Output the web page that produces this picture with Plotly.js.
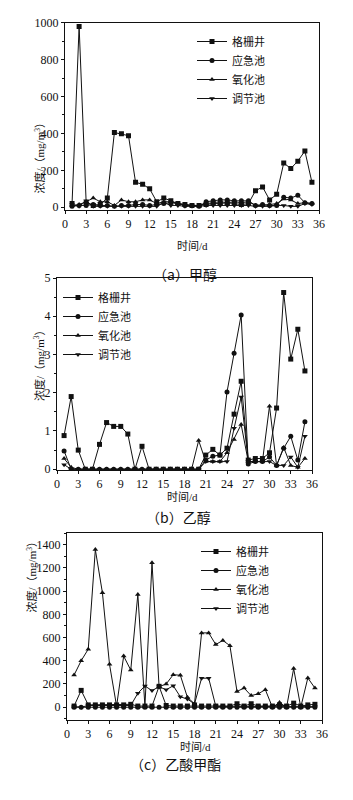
<!DOCTYPE html>
<html><head><meta charset="utf-8">
<script src="https://cdn.plot.ly/plotly-3.0.1.min.js"></script>
<style>html,body{margin:0;padding:0;background:#fff;}#chart{width:353px;height:800px;}</style>
</head><body><div id="chart"></div>
<script>
const days = [1,2,3,4,5,6,7,8,9,10,11,12,13,14,15,16,17,18,19,20,21,22,23,24,25,26,27,28,29,30,31,32,33,34,35];
const seriesNames = ['格栅井','应急池','氧化池','调节池'];
const symbols = ['square','circle','triangle-up','triangle-down'];

// (a) 甲醇
const methanol_gezha = [20,980,25,10,15,50,405,398,388,135,125,100,30,50,35,20,15,10,10,15,20,20,25,20,15,20,90,110,40,70,240,210,250,305,135];
const methanol_yingji = [5,10,10,15,10,10,5,10,10,15,15,10,15,20,25,20,10,10,5,30,35,40,40,35,35,35,10,15,10,10,55,50,65,25,20];
const methanol_yanghua = [10,15,30,50,30,30,10,40,30,30,40,40,20,30,30,20,15,10,10,20,25,30,25,30,25,30,10,10,15,20,45,40,20,25,20];
const methanol_tiaojie = [15,5,35,5,5,5,5,5,5,5,5,5,5,25,10,10,5,5,5,10,10,10,10,10,10,10,5,5,5,10,10,5,5,20,15];

// (b) 乙醇
const ethanol_gezha = [0.88,1.9,0.5,0,0,0.65,1.22,1.12,1.12,0.92,0,0.6,0,0,0,0,0,0,0,0,0.37,0.52,0.37,0.55,1.44,2.3,0.24,0.28,0.28,0.43,1.6,4.62,2.88,3.66,2.57];
const ethanol_yingji = [0.48,0,0,0,0,0,0,0,0,0,0,0,0,0,0,0,0,0,0,0,0.24,0.34,0.37,2.02,3.03,4.03,0.14,0.2,0.2,0.32,0.1,0.55,0.86,0.24,1.24];
const ethanol_yanghua = [0.28,0.05,0,0,0,0,0,0,0,0,0,0,0,0,0,0,0,0,0,0.75,0.2,0.2,0.2,0.43,0.78,1.17,0.2,0.2,0.2,1.65,0.1,0.57,0.1,0.05,0.28];
const ethanol_tiaojie = [0.12,0,0,0,0,0,0,0,0,0,0,0,0,0,0,0,0,0,0,0,0.2,0.2,0.2,0.2,1.07,1.89,0.2,0.2,0.2,0.2,0.1,0.1,0.32,0.05,0.86];

// (c) 乙酸甲酯
const ma_gezha = [10,145,20,20,20,20,20,20,25,10,10,10,180,15,10,10,10,15,10,10,10,10,10,30,10,30,10,10,10,20,10,35,10,20,25];
const ma_yingji = [0,0,0,0,0,0,0,0,0,0,0,0,0,0,0,0,0,0,0,0,0,0,0,0,0,0,0,0,0,0,0,0,0,0,0];
const ma_yanghua = [277,400,500,1357,986,369,10,440,320,971,10,1243,177,200,280,275,85,30,640,640,540,575,530,136,165,100,116,151,0,40,0,333,0,252,165];
const ma_tiaojie = [5,0,15,15,15,15,15,15,15,120,183,143,177,150,185,90,70,29,250,250,10,5,5,10,5,5,5,5,5,5,5,5,5,5,5];

const panels = [
  {data:[methanol_gezha,methanol_yingji,methanol_yanghua,methanol_tiaojie], xa:'x', ya:'y', lg:'legend'},
  {data:[ethanol_gezha,ethanol_yingji,ethanol_yanghua,ethanol_tiaojie], xa:'x2', ya:'y2', lg:'legend2'},
  {data:[ma_gezha,ma_yingji,ma_yanghua,ma_tiaojie], xa:'x3', ya:'y3', lg:'legend3'}
];

const traces = [];
panels.forEach(p => {
  p.data.forEach((vals, i) => {
    traces.push({
      x: days, y: vals, type: 'scatter', mode: 'lines+markers',
      name: seriesNames[i], xaxis: p.xa, yaxis: p.ya, legend: p.lg,
      line: {color: '#111', width: 1},
      marker: {symbol: symbols[i], size: 5, color: '#111'}
    });
  });
});

const W = 353, H = 800;
const fx = v => v / W, fy = v => 1 - v / H;
const numFont = {family: 'Liberation Serif, serif', size: 12, color: '#111'};
const cjkFont = {family: 'Liberation Serif, Noto Sans CJK SC, serif', size: 11, color: '#111'};
const capFont = {family: 'Noto Sans CJK SC', size: 14, color: '#111'};

function xax(l, r, anchor) {
  return {domain: [fx(l), fx(r)], range: [0, 36], dtick: 3, tick0: 0, anchor: anchor,
    showline: true, mirror: true, linecolor: '#111', linewidth: 1, ticks: 'outside', ticklen: 3,
    tickcolor: '#111', showgrid: false, zeroline: false, tickfont: numFont, fixedrange: true};
}
function yax(t, b, range, dtick, anchor) {
  return {domain: [fy(b), fy(t)], range: range, dtick: dtick, tick0: 0, anchor: anchor,
    showline: true, mirror: true, linecolor: '#111', linewidth: 1, ticks: 'outside', ticklen: 3,
    tickcolor: '#111', showgrid: false, zeroline: false, tickfont: numFont, fixedrange: true,
    minor: {dtick: dtick / 2, ticks: 'outside', ticklen: 2, tickcolor: '#111'}};
}

const legendBase = {font: cjkFont, bgcolor: 'rgba(0,0,0,0)', borderwidth: 0, tracegroupgap: 0,
  itemwidth: 30, xanchor: 'left', yanchor: 'top'};

const layout = {
  width: W, height: H, margin: {l: 0, r: 0, t: 0, b: 0},
  paper_bgcolor: '#fff', plot_bgcolor: '#fff', showlegend: true,
  xaxis: xax(65, 319, 'y'),
  yaxis: yax(22.7, 209.5, [-12, 1000], 200, 'x'),
  xaxis2: xax(57, 312, 'y2'),
  yaxis2: yax(278, 470, [-0.02, 5], 1, 'x2'),
  xaxis3: xax(67, 322, 'y3'),
  yaxis3: yax(533, 720, [-110, 1500], 200, 'x3'),
  legend: Object.assign({}, legendBase, {x: fx(192), y: fy(27)}),
  legend2: Object.assign({}, legendBase, {x: fx(58), y: fy(283)}),
  legend3: Object.assign({}, legendBase, {x: fx(196), y: fy(537)}),
  annotations: [
    {text: '时间/d', x: fx(192), y: fy(238), xref: 'paper', yref: 'paper', showarrow: false, font: cjkFont},
    {text: '（a）甲醇', x: fx(185), y: fy(262), xref: 'paper', yref: 'paper', showarrow: false, font: capFont},
    {text: '浓度/（mg/m<sup>3</sup>）', x: fx(30), y: fy(115), xref: 'paper', yref: 'paper', showarrow: false, textangle: -90, font: cjkFont},
    {text: '时间/d', x: fx(182), y: fy(497), xref: 'paper', yref: 'paper', showarrow: false, font: cjkFont},
    {text: '（b）乙醇', x: fx(178), y: fy(517), xref: 'paper', yref: 'paper', showarrow: false, font: capFont},
    {text: '浓度/（mg/m<sup>3</sup>）', x: fx(30), y: fy(363), xref: 'paper', yref: 'paper', showarrow: false, textangle: -90, font: cjkFont},
    {text: '时间/d', x: fx(195), y: fy(755), xref: 'paper', yref: 'paper', showarrow: false, font: cjkFont},
    {text: '（c）乙酸甲酯', x: fx(175), y: fy(776), xref: 'paper', yref: 'paper', showarrow: false, font: capFont},
    {text: '浓度/（mg/m<sup>3</sup>）', x: fx(22), y: fy(615), xref: 'paper', yref: 'paper', showarrow: false, textangle: -90, font: cjkFont}
  ]
};

Plotly.newPlot('chart', traces, layout, {displayModeBar: false, staticPlot: true});
</script></body></html>
